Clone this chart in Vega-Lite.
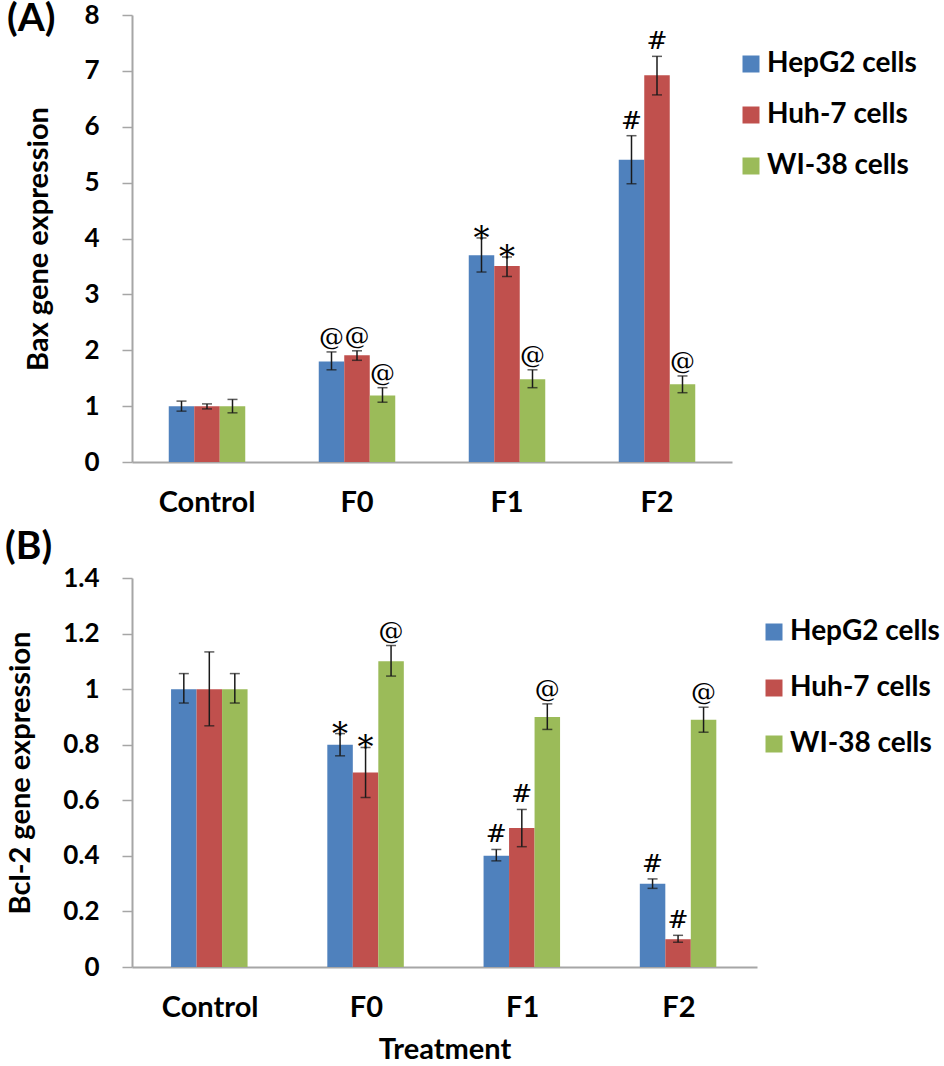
{
  "$schema": "https://vega.github.io/schema/vega-lite/v6.json",
  "background": "white",
  "padding": {"left": 5, "top": 0, "right": 2, "bottom": 0},
  "config": {
    "font": "Lato",
    "view": {"stroke": null},
    "concat": {"spacing": 11},
    "axis": {
      "domainColor": "#A6A6A6",
      "domainWidth": 2,
      "tickColor": "#A6A6A6",
      "tickWidth": 1.5,
      "grid": false,
      "labelColor": "black",
      "labelFont": "Lato",
      "labelFontWeight": "bold",
      "titleColor": "black",
      "titleFont": "Lato",
      "titleFontWeight": "bold"
    },
    "legend": {
      "labelFont": "Lato",
      "labelFontWeight": "bold",
      "labelColor": "black",
      "labelFontSize": 28,
      "symbolType": "square",
      "symbolSize": 289,
      "symbolStrokeWidth": 0,
      "labelOffset": 2
    }
  },
  "datasets": {
    "bax": [
      {"cat": "Control", "cell": "HepG2 cells", "value": 1.0, "lo": 0.91, "hi": 1.09, "label": ""},
      {"cat": "Control", "cell": "Huh-7 cells", "value": 1.0, "lo": 0.95, "hi": 1.04, "label": ""},
      {"cat": "Control", "cell": "WI-38 cells", "value": 1.0, "lo": 0.88, "hi": 1.12, "label": ""},
      {"cat": "F0", "cell": "HepG2 cells", "value": 1.8, "lo": 1.65, "hi": 1.97, "label": "@"},
      {"cat": "F0", "cell": "Huh-7 cells", "value": 1.91, "lo": 1.82, "hi": 1.99, "label": "@"},
      {"cat": "F0", "cell": "WI-38 cells", "value": 1.19, "lo": 1.07, "hi": 1.33, "label": "@"},
      {"cat": "F1", "cell": "HepG2 cells", "value": 3.7, "lo": 3.4, "hi": 4.01, "label": "*"},
      {"cat": "F1", "cell": "Huh-7 cells", "value": 3.51, "lo": 3.32, "hi": 3.67, "label": "*"},
      {"cat": "F1", "cell": "WI-38 cells", "value": 1.48, "lo": 1.33, "hi": 1.65, "label": "@"},
      {"cat": "F2", "cell": "HepG2 cells", "value": 5.41, "lo": 4.98, "hi": 5.84, "label": "#"},
      {"cat": "F2", "cell": "Huh-7 cells", "value": 6.92, "lo": 6.57, "hi": 7.26, "label": "#"},
      {"cat": "F2", "cell": "WI-38 cells", "value": 1.39, "lo": 1.24, "hi": 1.54, "label": "@"}
    ],
    "bcl": [
      {"cat": "Control", "cell": "HepG2 cells", "value": 1.0, "lo": 0.95, "hi": 1.056, "label": ""},
      {"cat": "Control", "cell": "Huh-7 cells", "value": 1.0, "lo": 0.868, "hi": 1.134, "label": ""},
      {"cat": "Control", "cell": "WI-38 cells", "value": 1.0, "lo": 0.95, "hi": 1.056, "label": ""},
      {"cat": "F0", "cell": "HepG2 cells", "value": 0.8, "lo": 0.76, "hi": 0.84, "label": "*"},
      {"cat": "F0", "cell": "Huh-7 cells", "value": 0.7, "lo": 0.61, "hi": 0.79, "label": "*"},
      {"cat": "F0", "cell": "WI-38 cells", "value": 1.1, "lo": 1.047, "hi": 1.157, "label": "@"},
      {"cat": "F1", "cell": "HepG2 cells", "value": 0.4, "lo": 0.382, "hi": 0.423, "label": "#"},
      {"cat": "F1", "cell": "Huh-7 cells", "value": 0.5, "lo": 0.433, "hi": 0.567, "label": "#"},
      {"cat": "F1", "cell": "WI-38 cells", "value": 0.9, "lo": 0.855, "hi": 0.947, "label": "@"},
      {"cat": "F2", "cell": "HepG2 cells", "value": 0.3, "lo": 0.283, "hi": 0.317, "label": "#"},
      {"cat": "F2", "cell": "Huh-7 cells", "value": 0.1, "lo": 0.089, "hi": 0.114, "label": "#"},
      {"cat": "F2", "cell": "WI-38 cells", "value": 0.89, "lo": 0.845, "hi": 0.935, "label": "@"}
    ]
  },
  "vconcat": [
    {
      "width": 600,
      "height": 447,
      "data": {"name": "bax"},
      "title": {"text": "(A)", "anchor": "start", "frame": "group", "fontSize": 39, "fontWeight": "bold", "font": "Lato", "color": "black", "dx": -125, "offset": -68, "baseline": "alphabetic"},
      "encoding": {
        "x": {"field": "cat", "type": "nominal", "sort": ["Control", "F0", "F1", "F2"],
              "scale": {"paddingInner": 0.49, "paddingOuter": 0.245},
              "axis": {"title": null, "labelAngle": 0, "ticks": false, "labelPadding": 26, "labelFontSize": 29}},
        "xOffset": {"field": "cell", "type": "nominal", "sort": ["HepG2 cells", "Huh-7 cells", "WI-38 cells"], "scale": {"paddingInner": 0, "paddingOuter": 0}}
      },
      "layer": [
        {
          "mark": {"type": "bar"},
          "encoding": {
            "y": {"field": "value", "type": "quantitative", "scale": {"domain": [0, 8], "nice": false},
                  "axis": {"title": "Bax gene expression", "values": [0, 1, 2, 3, 4, 5, 6, 7, 8], "format": "~g", "labelFontSize": 26, "tickSize": 10, "labelPadding": 23, "titleFontSize": 29, "titlePadding": 30}},
            "color": {"field": "cell", "type": "nominal",
                      "scale": {"domain": ["HepG2 cells", "Huh-7 cells", "WI-38 cells"], "range": ["#4F81BD", "#C0504D", "#9BBB59"]},
                      "legend": {"title": null, "orient": "none", "legendX": 605, "legendY": 35, "rowPadding": 23}}
          }
        },
        {
          "mark": {"type": "rule", "color": "#1a1a1a", "strokeWidth": 1.5},
          "encoding": {"y": {"field": "lo", "type": "quantitative"}, "y2": {"field": "hi"}}
        },
        {
          "mark": {"type": "tick", "color": "#1a1a1a", "thickness": 1.5, "size": 10},
          "encoding": {"y": {"field": "lo", "type": "quantitative"}}
        },
        {
          "mark": {"type": "tick", "color": "#1a1a1a", "thickness": 1.5, "size": 10},
          "encoding": {"y": {"field": "hi", "type": "quantitative"}}
        },
        {
          "transform": [{"filter": "datum.label != '' && datum.label != '*'"}],
          "mark": {"type": "text", "font": "DejaVu Serif", "fontSize": 25, "baseline": "alphabetic", "dy": -7, "color": "black"},
          "encoding": {"y": {"field": "hi", "type": "quantitative"}, "text": {"field": "label"}}
        },
        {
          "transform": [{"filter": "datum.label == '*'"}],
          "mark": {"type": "text", "font": "DejaVu Serif", "fontSize": 32, "baseline": "alphabetic", "dy": 11, "color": "black"},
          "encoding": {"y": {"field": "hi", "type": "quantitative"}, "text": {"field": "label"}}
        }
      ]
    },
    {
      "width": 625,
      "height": 389,
      "data": {"name": "bcl"},
      "title": {"text": "(B)", "anchor": "start", "frame": "group", "fontSize": 39, "fontWeight": "bold", "font": "Lato", "color": "black", "dx": -127, "offset": -33, "baseline": "alphabetic"},
      "encoding": {
        "x": {"field": "cat", "type": "nominal", "sort": ["Control", "F0", "F1", "F2"],
              "scale": {"paddingInner": 0.5, "paddingOuter": 0.25},
              "axis": {"title": "Treatment", "labelAngle": 0, "ticks": false, "labelPadding": 26, "labelFontSize": 29, "titleFontSize": 29, "titlePadding": 13}},
        "xOffset": {"field": "cell", "type": "nominal", "sort": ["HepG2 cells", "Huh-7 cells", "WI-38 cells"], "scale": {"paddingInner": 0, "paddingOuter": 0}}
      },
      "layer": [
        {
          "mark": {"type": "bar"},
          "encoding": {
            "y": {"field": "value", "type": "quantitative", "scale": {"domain": [0, 1.4], "nice": false},
                  "axis": {"title": "Bcl-2 gene expression", "values": [0, 0.2, 0.4, 0.6, 0.8, 1, 1.2, 1.4], "format": "~g", "labelFontSize": 26, "tickSize": 10, "labelPadding": 23, "titleFontSize": 29, "titlePadding": 27}},
            "color": {"field": "cell", "type": "nominal",
                      "scale": {"domain": ["HepG2 cells", "Huh-7 cells", "WI-38 cells"], "range": ["#4F81BD", "#C0504D", "#9BBB59"]},
                      "legend": {"title": null, "orient": "none", "legendX": 628, "legendY": 40, "rowPadding": 28}}
          }
        },
        {
          "mark": {"type": "rule", "color": "#1a1a1a", "strokeWidth": 1.5},
          "encoding": {"y": {"field": "lo", "type": "quantitative"}, "y2": {"field": "hi"}}
        },
        {
          "mark": {"type": "tick", "color": "#1a1a1a", "thickness": 1.5, "size": 10},
          "encoding": {"y": {"field": "lo", "type": "quantitative"}}
        },
        {
          "mark": {"type": "tick", "color": "#1a1a1a", "thickness": 1.5, "size": 10},
          "encoding": {"y": {"field": "hi", "type": "quantitative"}}
        },
        {
          "transform": [{"filter": "datum.label != '' && datum.label != '*'"}],
          "mark": {"type": "text", "font": "DejaVu Serif", "fontSize": 25, "baseline": "alphabetic", "dy": -7, "color": "black"},
          "encoding": {"y": {"field": "hi", "type": "quantitative"}, "text": {"field": "label"}}
        },
        {
          "transform": [{"filter": "datum.label == '*'"}],
          "mark": {"type": "text", "font": "DejaVu Serif", "fontSize": 32, "baseline": "alphabetic", "dy": 11, "color": "black"},
          "encoding": {"y": {"field": "hi", "type": "quantitative"}, "text": {"field": "label"}}
        }
      ]
    }
  ],
  "resolve": {"scale": {"color": "independent"}, "legend": {"color": "independent"}}
}
